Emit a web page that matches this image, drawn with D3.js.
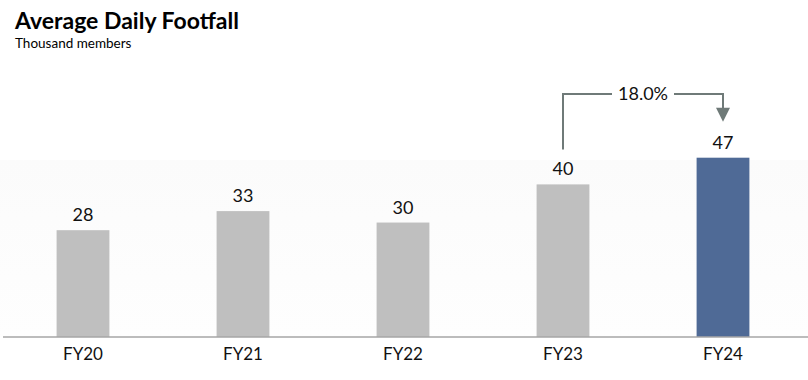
<!DOCTYPE html>
<html><head><meta charset="utf-8">
<script src="https://cdn.jsdelivr.net/npm/d3@7"></script>
<style>body{margin:0;background:#fff}svg{display:block}</style>
</head><body>
<script>
const categories = ["FY20","FY21","FY22","FY23","FY24"];
const values = [28,33,30,40,47];
const growthLabel = "18.0%";
const title = "Average Daily Footfall";
const subtitle = "Thousand members";

const W=808,H=380, baseY=337;
const svg=d3.select("body").append("svg").attr("width",W).attr("height",H);
const font="Lato, 'Open Sans', sans-serif";

// faint background band
const grad=svg.append("defs").append("linearGradient").attr("id","bg").attr("x1",0).attr("x2",0).attr("y1",0).attr("y2",1);
grad.append("stop").attr("offset","0").attr("stop-color","#fbfbfb");
grad.append("stop").attr("offset","1").attr("stop-color","#fefefe");
svg.append("rect").attr("x",0).attr("y",160).attr("width",W).attr("height",baseY-160).attr("fill","url(#bg)");

const x=d3.scaleBand().domain(categories).range([3,803]).paddingInner(0.67).paddingOuter(0.335);
const y=d3.scaleLinear().domain([0,47]).range([baseY,157.7]);

svg.selectAll("rect.bar").data(values).join("rect").attr("class","bar")
  .attr("x",(d,i)=>x(categories[i])).attr("width",x.bandwidth())
  .attr("y",d=>y(d)).attr("height",d=>baseY-y(d))
  .attr("fill",(d,i)=>i===values.length-1?"#4f6a96":"#bfbfbf");

svg.selectAll("text.val").data(values).join("text").attr("class","val")
  .attr("x",(d,i)=>x(categories[i])+x.bandwidth()/2).attr("y",d=>y(d)-9)
  .attr("text-anchor","middle").attr("font-family",font).attr("font-size",18).attr("fill","#111").text(d=>d);

// axis
const axis=d3.axisBottom(x).tickSize(0).tickPadding(11);
const ag=svg.append("g").attr("transform",`translate(0,${baseY})`).call(axis);
ag.select(".domain").attr("stroke","#a6a6a6").attr("stroke-width",1.5).attr("d","M3,0H808");
ag.selectAll("text").attr("font-family",font).attr("font-size",17).attr("fill","#111");

// title
svg.append("text").attr("x",15).attr("y",29).attr("font-family",font).attr("font-weight",700).attr("font-size",23).attr("fill","#000").text(title);
svg.append("text").attr("x",15).attr("y",48).attr("font-family",font).attr("font-size",13.5).attr("fill","#000").text(subtitle);

// growth annotation
const i0=categories.length-2, i1=categories.length-1;
const xa=x(categories[i0])+x.bandwidth()/2, xb=x(categories[i1])+x.bandwidth()/2;
const topY=94, startY=y(values[i0])-35, tipY=y(values[i1])-36;
const midX=(xa+xb)/2;
const col="#6f7a78";
svg.append("path").attr("d",`M${xa},${startY}V${topY}H${midX-31}`).attr("fill","none").attr("stroke",col).attr("stroke-width",2);
svg.append("path").attr("d",`M${midX+31},${topY}H${xb}V${tipY-13}`).attr("fill","none").attr("stroke",col).attr("stroke-width",2);
svg.append("path").attr("d",`M${xb-7},${tipY-14}L${xb+7},${tipY-14}L${xb},${tipY}Z`).attr("fill",col);
svg.append("text").attr("x",midX).attr("y",topY+6).attr("text-anchor","middle").attr("font-family",font).attr("font-size",18).attr("fill","#111").text(growthLabel);
</script>
</body></html>
